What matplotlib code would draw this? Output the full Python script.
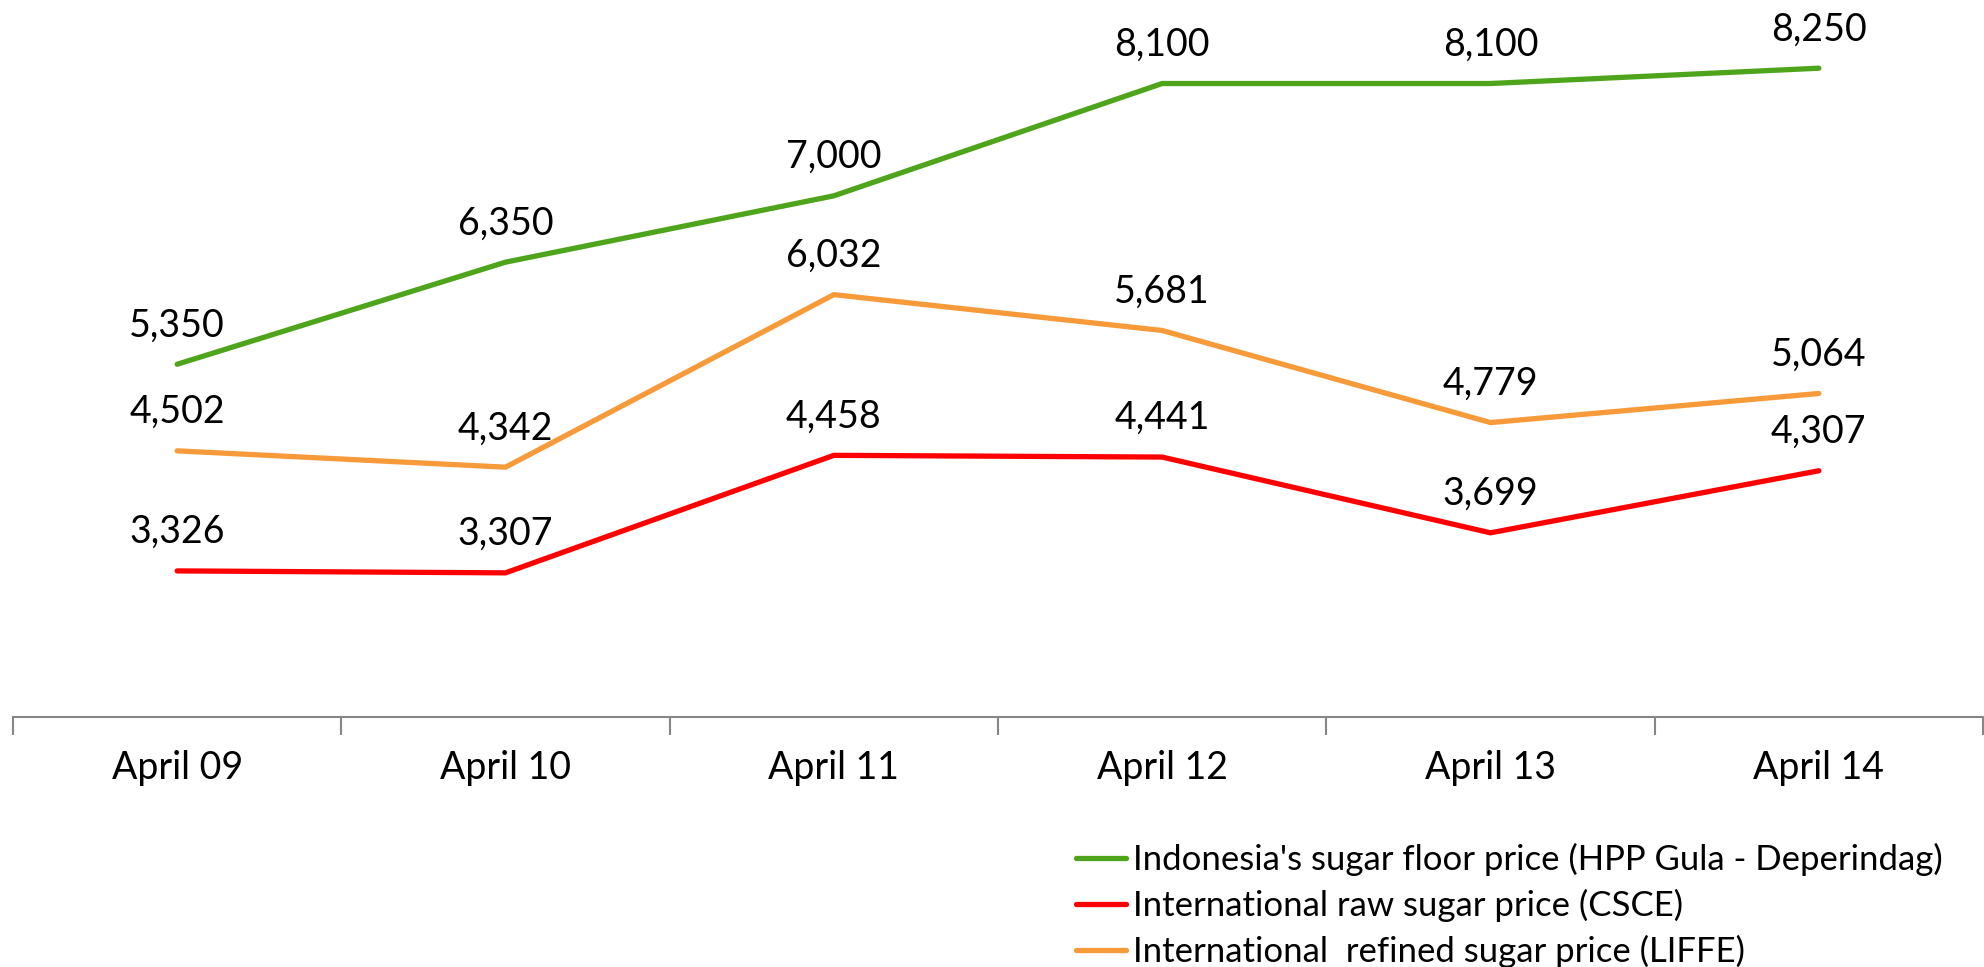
import numpy as np
import matplotlib
matplotlib.use("Agg")
import matplotlib.pyplot as plt

plt.rcParams['font.family'] = ['Lato', 'DejaVu Sans']

# Datos
fechas = ['April 09', 'April 10', 'April 11', 'April 12', 'April 13', 'April 14']
precio_piso = [5350, 6350, 7000, 8100, 8100, 8250]
precio_crudo = [3326, 3307, 4458, 4441, 3699, 4307]
precio_refinado = [4502, 4342, 6032, 5681, 4779, 5064]

etiquetas = ["Indonesia's sugar floor price (HPP Gula - Deperindag)",
             "International raw sugar price (CSCE)",
             "International  refined sugar price (LIFFE)"]
colores = ['#4EA51C', '#FF0000', '#F79A3A']

fig = plt.figure(figsize=(19.84, 9.67), dpi=100)
ax = fig.add_axes([13 / 1984, 1 - 717 / 967, 1970 / 1984, 717 / 967])

x = np.arange(len(fechas))
series = [precio_piso, precio_crudo, precio_refinado]
for serie, color, etiqueta in zip(series, colores, etiquetas):
    ax.plot(x, serie, color=color, lw=3.8, label=etiqueta, solid_capstyle='round')
    for xi, yi in zip(x, serie):
        ax.annotate(f'{yi:,}', (xi, yi), xytext=(0, 28), textcoords='offset points',
                    ha='center', va='center', fontsize=27, color='black')

ax.set_xlim(-0.5, len(fechas) - 0.5)
ax.set_ylim(1895, 8918)

# Eje x con marcas entre categorias
ax.set_xticks(np.arange(-0.5, len(fechas), 1.0))
ax.set_xticklabels([])
ax.set_xticks(x, minor=True)
ax.set_xticklabels(fechas, minor=True, fontsize=27)
ax.tick_params(axis='x', which='major', length=13, width=1.5, color='#868686', direction='out')
ax.tick_params(axis='x', which='minor', length=0, pad=24)
ax.set_yticks([])

for lado in ['top', 'right', 'left']:
    ax.spines[lado].set_visible(False)
ax.spines['bottom'].set_color('#868686')
ax.spines['bottom'].set_linewidth(1.5)

fig.legend(loc='upper left', bbox_to_anchor=(1076 / 1984, 1 - 843 / 967), frameon=False,
           fontsize=25, handlelength=1.45, handletextpad=0.2, labelspacing=0.37,
           borderpad=0, borderaxespad=0)

fig.savefig('out.png', dpi=100)
